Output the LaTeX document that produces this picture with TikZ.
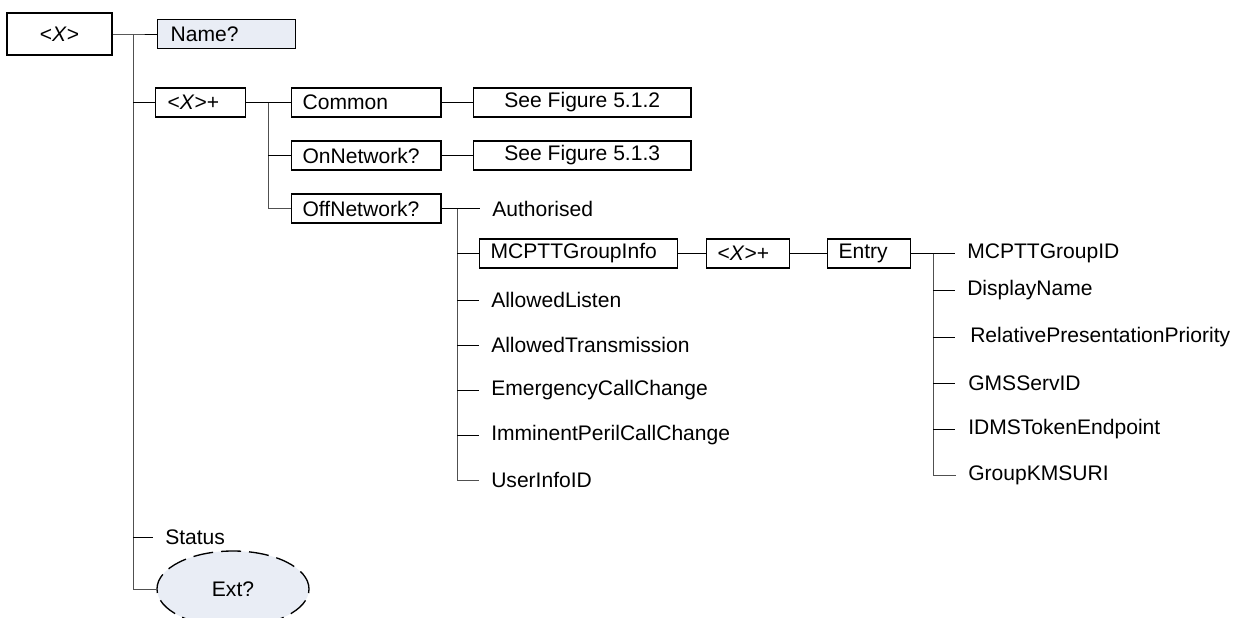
\documentclass[tikz,border=0pt]{standalone}
\usepackage{fontspec}
\setmainfont{Liberation Sans}
\usetikzlibrary{shapes.geometric}
\definecolor{paleblue}{HTML}{E9EDF5}
\definecolor{trunkgrey}{HTML}{505050}
\tikzset{
  bx/.style={draw, line width=0.9pt, minimum height=21.75pt, inner xsep=8.25pt, inner ysep=0pt, anchor=west},
  cbx/.style={draw, line width=0.9pt, minimum height=21.75pt, minimum width=#1, inner sep=0pt, anchor=west},
  leaf/.style={inner xsep=9pt, inner ysep=0pt, anchor=west},
  ln/.style={line width=0.75pt, draw=black},
  tk/.style={line width=0.75pt, draw=trunkgrey},
}
\newcommand{\lbx}[2]{\makebox[#1][l]{#2}}
\begin{document}
\begin{tikzpicture}[x=0.75pt,y=-0.75pt,font=\fontsize{15.8pt}{18pt}\selectfont]
\useasboundingbox (0,0) rectangle (1240,618);

% root
\node[draw, line width=1.1pt, minimum width=78.75pt, minimum height=31.5pt, inner sep=0pt] (root) at (59.5,34) {<\textit{X}>};
\node[bx, inner xsep=9.75pt, fill=paleblue] (name) at (157,34) {\lbx{84pt}{Name?}};
\node[bx, inner xsep=9pt] (xplus) at (155,102.5) {\lbx{49.5pt}{<\textit{X}>+}};
\node[leaf] (status) at (153,537) {Status};
\node[ellipse, draw, line width=1pt, dash pattern=on 15pt off 6pt, fill=paleblue, minimum width=114pt, minimum height=57pt, inner sep=0pt] (ext) at (233,589) {Ext?};

\coordinate (t1) at (133,34);
\draw[ln] (root.east) -- (t1) -- (name.west);
\draw[tk] (t1) |- (ext.west);
\draw[ln] (t1 |- xplus) -- (xplus.west);
\draw[ln] (t1 |- status) -- (status.west);

% second level
\node[bx] (common) at (291,102.5) {\lbx{95.5pt}{Common}};
\node[bx] (onnet) at (291,155.5) {\lbx{95.5pt}{OnNetwork?}};
\node[bx] (offnet) at (291,208.5) {\lbx{95.5pt}{OffNetwork?}};
\node[cbx=163pt] (fig2) at (473,102.5) {See Figure 5.1.2};
\node[cbx=163pt] (fig3) at (473,155.5) {See Figure 5.1.3};

\coordinate (t2) at (268,102.5);
\draw[ln] (xplus.east) -- (t2) -- (common.west);
\draw[tk] (t2) |- (offnet.west);
\draw[ln] (t2 |- onnet) -- (onnet.west);
\draw[ln] (common.east) -- (fig2.west);
\draw[ln] (onnet.east) -- (fig3.west);

% OffNetwork children
\node[leaf] (auth) at (480,208.5) {Authorised};
\node[bx] (grp) at (479,253.5) {\lbx{132pt}{MCPTTGroupInfo}};
\node[leaf] (al) at (479,300) {AllowedListen};
\node[leaf] (at) at (479,345) {AllowedTransmission};
\node[leaf] (ecc) at (479,390) {EmergencyCallChange};
\node[leaf] (ipc) at (479,435) {ImminentPerilCallChange};
\node[leaf] (uid) at (479,480) {UserInfoID};

\coordinate (t3) at (457,208.5);
\draw[ln] (offnet.east) -- (t3) -- (auth.west);
\draw[tk] (t3) |- (uid.west);
\draw[ln] (t3 |- grp) -- (grp.west);
\draw[ln] (t3 |- al) -- (al.west);
\draw[ln] (t3 |- at) -- (at.west);
\draw[ln] (t3 |- ecc) -- (ecc.west);
\draw[ln] (t3 |- ipc) -- (ipc.west);

\node[bx] (xplus2) at (706,253.5) {\lbx{45.75pt}{<\textit{X}>+}};
\node[bx] (entry) at (827,253.5) {\lbx{45.75pt}{Entry}};
\draw[ln] (grp.east) -- (xplus2.west);
\draw[ln] (xplus2.east) -- (entry.west);

% Entry children
\node[leaf] (gid) at (955,253.5) {MCPTTGroupID};
\node[leaf] (dn) at (955,290) {DisplayName};
\node[leaf] (rpp) at (958,337) {RelativePresentationPriority};
\node[leaf] (gms) at (956,383) {GMSServID};
\node[leaf] (idms) at (956,429) {IDMSTokenEndpoint};
\node[leaf] (kms) at (956,475) {GroupKMSURI};

\coordinate (t4) at (933,253.5);
\draw[ln] (entry.east) -- (t4) -- (gid.west);
\draw[tk] (t4) |- (kms.west);
\draw[ln] (t4 |- dn) -- (dn.west);
\draw[ln] (t4 |- rpp) -- ([xshift=-3*0.75pt]rpp.west);
\draw[ln] (t4 |- gms) -- ([xshift=-1*0.75pt]gms.west);
\draw[ln] (t4 |- idms) -- ([xshift=-1*0.75pt]idms.west);
\end{tikzpicture}
\end{document}
